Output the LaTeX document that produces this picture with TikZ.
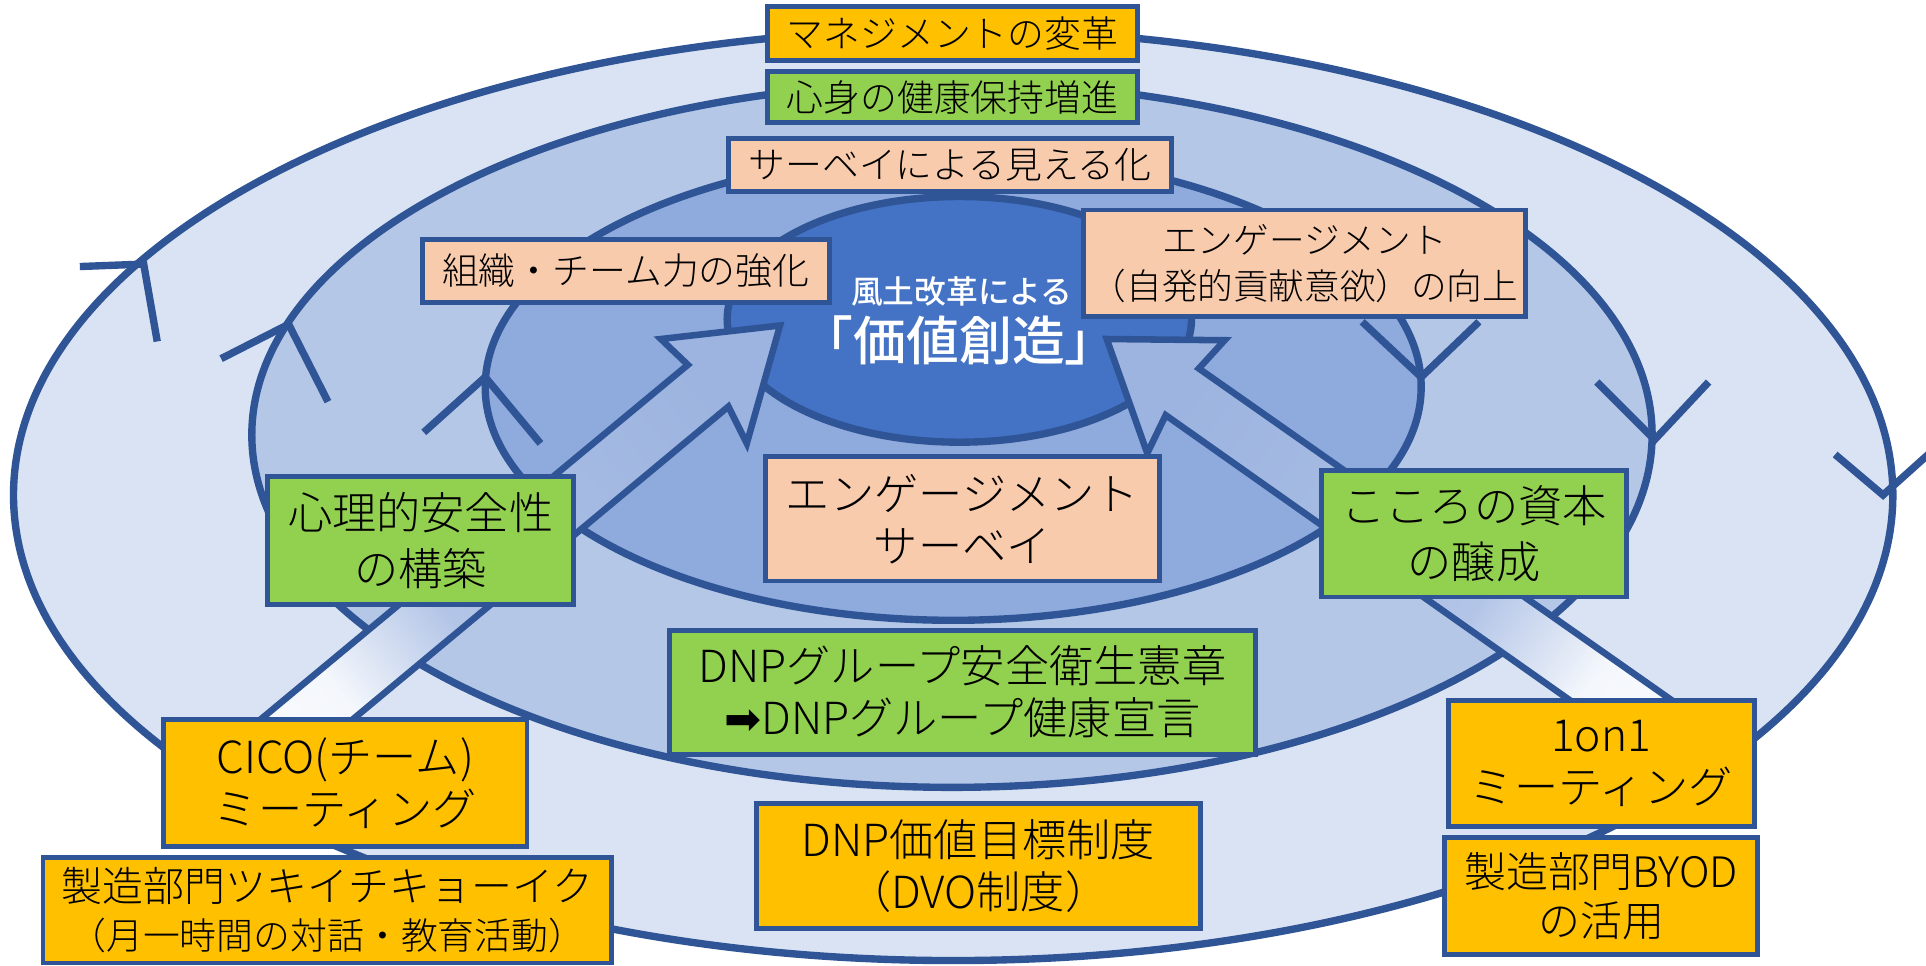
\documentclass[tikz,border=0pt]{standalone}
\usepackage{fontspec}
\newfontfamily\jp{Noto Sans CJK JP Light}[BoldFont=Noto Sans CJK JP Medium]
\newfontfamily\dv{DejaVu Sans}
\definecolor{lineblue}{HTML}{2F5597}
\definecolor{ringA}{HTML}{DAE3F3}
\definecolor{ringB}{HTML}{B4C7E7}
\definecolor{ringC}{HTML}{8FAADC}
\definecolor{core}{HTML}{4472C4}
\definecolor{orangebox}{HTML}{FFC000}
\definecolor{greenbox}{HTML}{92D050}
\definecolor{peachbox}{HTML}{F8CBAD}
\definecolor{shadeLow}{HTML}{F4F7FC}
\definecolor{shadeMid}{HTML}{B3C5E7}
\definecolor{shadeUp}{HTML}{A6BCE3}
\definecolor{shadeTop}{HTML}{9DB4E0}
\pgfdeclareverticalshading{arrowshade}{100bp}{color(0bp)=(white); color(24bp)=(shadeLow); color(38bp)=(shadeMid); color(52bp)=(shadeUp); color(75bp)=(shadeTop); color(100bp)=(shadeTop)}
\newcommand\fntA{\jp\fontsize{18}{22}\selectfont}
\newcommand\fntB{\jp\fontsize{17.4}{22.2}\selectfont}
\newcommand\fntC{\jp\fontsize{21.6}{25.4}\selectfont}
\newcommand\fntCw{\jp\fontsize{21.6}{27}\selectfont}
\newcommand\fntD{\jp\fontsize{20}{23.4}\selectfont}
\newcommand\fntE{\fontsize{18}{23.4}\selectfont}
\newcommand\fntF{\jp\fontsize{20.5}{24}\selectfont}
\newcommand\myLP{\makebox[0.5em][r]{（}}
\newcommand\myRP{\makebox[0.5em][l]{）}}
\newcommand\myLB{\makebox[0.5em][r]{「}}
\newcommand\myRB{\makebox[0.5em][l]{」}}
\newcommand\mybox[8]{%
  \node[boxbase, fill=#6, font=#7, minimum width={(#4-#2)*0.6pt}, minimum height={(#5-#3)*0.6pt}] (#1) at ({(#2+#4)/2},{(#3+#5)/2}) {#8};}
\begin{document}
\begin{tikzpicture}[x=0.6pt, y=-0.6pt,
  boxbase/.style={draw=lineblue, line width=2.4pt, inner sep=0pt, align=center, text=black},
  ring/.style={draw=lineblue, line width=3.6pt},
  chev/.style={draw=lineblue, line width=3.6pt, line cap=butt, line join=miter},
  blockarrow/.style={draw=lineblue, line width=3.2pt, line join=miter, shading=arrowshade}]
\useasboundingbox (0,0) rectangle (1568,786);
\fill[white] (0,0) rectangle (1568,786);
% rings
\draw[ring, fill=ringA] (776,403) ellipse [x radius=765, y radius=379];
\draw[ring, fill=ringB] (775,354) ellipse [x radius=570, y radius=287];
\draw[ring, fill=ringC] (776,315) ellipse [x radius=381, y radius=190];
\draw[ring, fill=core] (781,260) ellipse [x radius=189, y radius=100];
% direction chevrons
\draw[chev] (65,217) -- (117,215) -- (128,278);
\draw[chev] (1494,370) -- (1533,403) -- (1572,368);
\draw[chev] (180,292) -- (235,264) -- (267,327);
\draw[chev] (1300,311) -- (1347,358) -- (1391,311);
\draw[chev] (345,352) -- (395,307) -- (440,361);
\draw[chev] (1109,262) -- (1157,307) -- (1204,262);
% block arrows
\shadedraw[blockarrow, shading angle=-50.3] (207,590) -- (560,297) -- (538,276) -- (635,265) -- (608,361) -- (593,331) -- (282,590) -- cycle;
\shadedraw[blockarrow, shading angle=55] (901,276) -- (934,369) -- (949,338) -- (1285,575) -- (1368,575) -- (976,300) -- (997,277) -- cycle;
% boxes
\mybox{mgmt}{625}{5}{926}{49}{orangebox}{\fntA}{マネジメントの変革}
\mybox{health}{625}{58}{926}{100}{greenbox}{\fntA}{心身の健康保持増進}
\mybox{survey}{593}{113}{954}{156}{peachbox}{\fntA}{サーベイによる見える化}
\mybox{team}{344}{195}{675}{246}{peachbox}{\fntA}{組織・チーム力の強化}
\mybox{engage}{882}{171}{1242}{258}{peachbox}{\fntB}{エンゲージメント\\（自発的貢献意欲）の向上}
\mybox{esurvey}{623}{372}{944}{473}{peachbox}{\fntC}{エンゲージメント\\サーベイ}
\mybox{psafe}{218}{388}{467}{492}{greenbox}{\fntCw}{心理的安全性\\の構築}
\mybox{kokoro}{1076}{383}{1324}{486}{greenbox}{\fntCw}{こころの資本\\の醸成}
\mybox{charter}{545}{513}{1022}{614}{greenbox}{\fntC}{DNPグループ安全衛生憲章\\{\dv ➡}DNPグループ健康宣言}
\mybox{cico}{133}{586}{429}{689}{orangebox}{\fntC}{CICO(チーム)\\ミーティング}
\mybox{tsuki}{35}{698}{498}{784}{orangebox}{\fntD}{製造部門ツキイチキョーイク\\{\fntE\myLP 月一時間の対話・教育活動\myRP}}
\mybox{dvo}{616}{654}{977}{756}{orangebox}{\fntC}{DNP価値目標制度\\（DVO制度）}
\mybox{oneon}{1179}{570}{1428}{673}{orangebox}{\fntC}{1on1\\ミーティング}
\mybox{byod}{1176}{682}{1431}{777}{orangebox}{\fntF}{製造部門BYOD\\の活用}
% centre text
\node[text=white, font=\jp\bfseries\fontsize{15.5}{18}\selectfont] (fudo) at (783,237) {風土改革による};
\node[text=white, font=\jp\bfseries\fontsize{25.8}{30}\selectfont] (kachi) at (781,277) {\myLB 価値創造\myRB};
\end{tikzpicture}
\end{document}
